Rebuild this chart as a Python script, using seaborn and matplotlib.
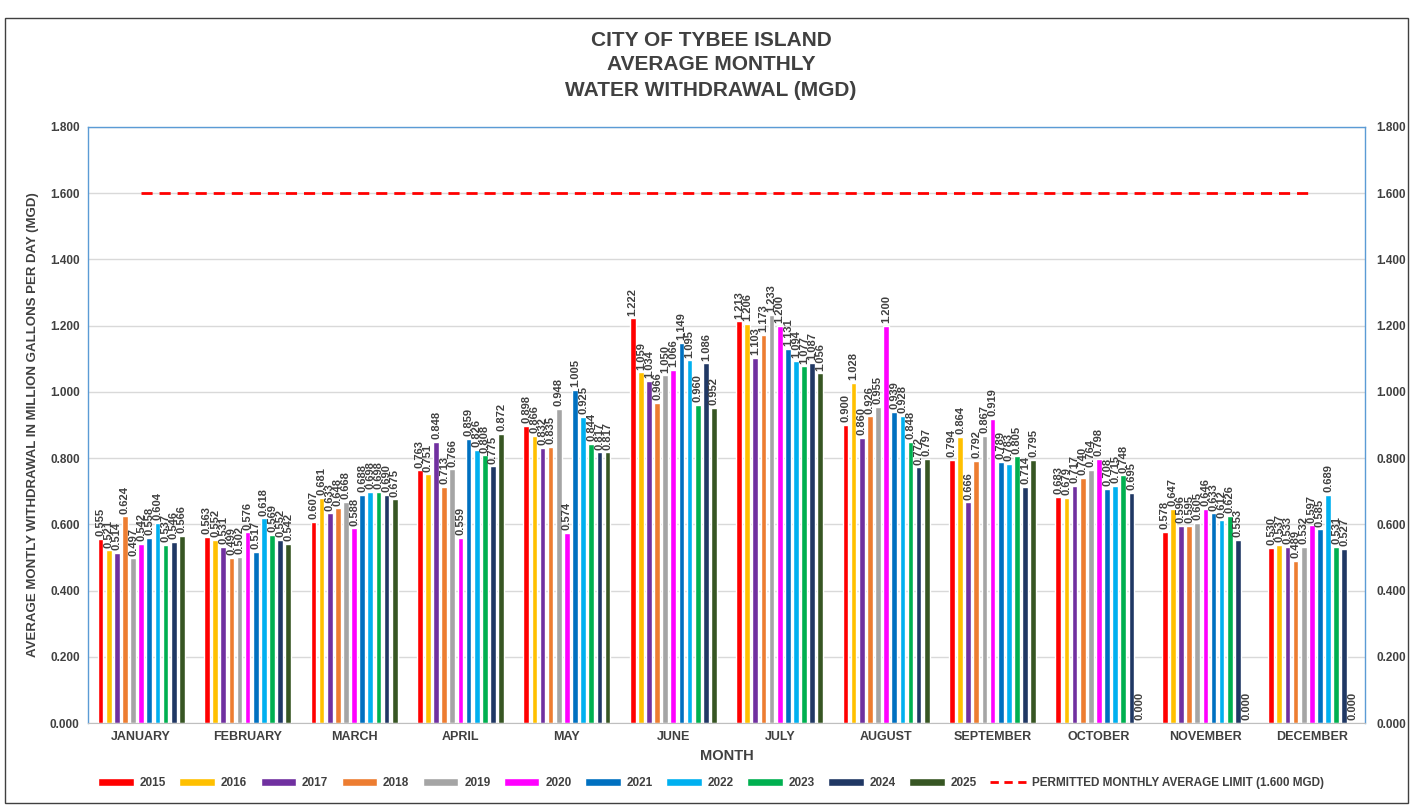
import numpy as np
import pandas as pd
import matplotlib
matplotlib.use("Agg")
import matplotlib.pyplot as plt
import seaborn as sns
from matplotlib.lines import Line2D
from matplotlib.patches import Patch, Rectangle

months = ["JANUARY", "FEBRUARY", "MARCH", "APRIL", "MAY", "JUNE", "JULY",
          "AUGUST", "SEPTEMBER", "OCTOBER", "NOVEMBER", "DECEMBER"]
years = ["2015", "2016", "2017", "2018", "2019", "2020", "2021", "2022", "2023", "2024", "2025"]

y2015 = [0.555, 0.563, 0.607, 0.763, 0.898, 1.222, 1.213, 0.900, 0.794, 0.683, 0.578, 0.530]
y2016 = [0.521, 0.552, 0.681, 0.751, 0.866, 1.059, 1.206, 1.028, 0.864, 0.679, 0.647, 0.537]
y2017 = [0.514, 0.531, 0.633, 0.848, 0.832, 1.034, 1.103, 0.860, 0.666, 0.717, 0.596, 0.533]
y2018 = [0.624, 0.499, 0.648, 0.713, 0.835, 0.966, 1.173, 0.926, 0.792, 0.740, 0.595, 0.489]
y2019 = [0.497, 0.502, 0.668, 0.766, 0.948, 1.050, 1.233, 0.955, 0.867, 0.764, 0.605, 0.532]
y2020 = [0.542, 0.576, 0.588, 0.559, 0.574, 1.066, 1.200, 1.200, 0.919, 0.798, 0.646, 0.597]
y2021 = [0.558, 0.517, 0.688, 0.859, 1.005, 1.149, 1.131, 0.939, 0.789, 0.708, 0.633, 0.585]
y2022 = [0.604, 0.618, 0.698, 0.826, 0.925, 1.095, 1.094, 0.928, 0.783, 0.715, 0.612, 0.689]
y2023 = [0.537, 0.569, 0.698, 0.808, 0.844, 0.960, 1.077, 0.848, 0.805, 0.748, 0.626, 0.531]
y2024 = [0.546, 0.552, 0.690, 0.775, 0.817, 1.086, 1.087, 0.772, 0.714, 0.695, 0.553, 0.527]
y2025 = [0.566, 0.542, 0.675, 0.872, 0.817, 0.952, 1.056, 0.797, 0.795, 0.000, 0.000, 0.000]

limit = 1.6

colors = ["#FF0000", "#FFC000", "#7030A0", "#ED7D31", "#A5A5A5", "#FF00FF",
          "#0070C0", "#00B0F0", "#00B050", "#203864", "#375623"]

series = [y2015, y2016, y2017, y2018, y2019, y2020, y2021, y2022, y2023, y2024, y2025]
rows = []
for yr, vals in zip(years, series):
    for m, v in zip(months, vals):
        rows.append({"Month": m, "Year": yr, "MGD": v})
df = pd.DataFrame(rows)

sns.set_style("white")
plt.rcParams["font.family"] = ["Liberation Sans", "DejaVu Sans"]
txt = "#404040"

fig = plt.figure(figsize=(14.22, 8.05), dpi=100)
ax = fig.add_axes([88 / 1422, 1 - 723 / 805, (1365 - 88) / 1422, (723 - 127) / 805])

sns.barplot(data=df, x="Month", y="MGD", hue="Year", palette=colors, order=months,
            hue_order=years, width=0.84, gap=0.3, saturation=1, ax=ax,
            legend=False, errorbar=None)

# value labels, rotated like the spreadsheet chart
for cont in ax.containers:
    ax.bar_label(cont, fmt="%.3f", rotation=90, padding=2, fontsize=8,
                 fontweight="bold", color=txt)

ax.plot(months, [limit] * len(months), color="#FF0000", lw=2, ls=(0, (4, 2.5)))

ax.set_ylim(0, 1.8)
ax.set_xlim(-0.5, 11.5)
ticks = np.arange(0, 1.801, 0.2)
ax.set_yticks(ticks)
ax.set_yticklabels([f"{t:.3f}" for t in ticks], fontsize=8.5, fontweight="bold", color=txt)
ax.set_xticks(range(len(months)))
ax.set_xticklabels(months, fontsize=9, fontweight="bold", color=txt)
ax.tick_params(axis="both", length=0, pad=6)
ax.yaxis.grid(True, color="#D9D9D9", lw=1)
ax.set_axisbelow(True)
ax.set_xlabel("MONTH", fontsize=10.5, fontweight="bold", color=txt, labelpad=4)
ax.set_ylabel("AVERAGE MONTLY WITHDRAWAL IN MILLION GALLONS PER DAY (MGD)",
              fontsize=9.5, fontweight="bold", color=txt, labelpad=8)
for s in ["left", "right", "top"]:
    ax.spines[s].set_color("#5B9BD5")
    ax.spines[s].set_linewidth(1)
ax.spines["bottom"].set_color("#BFBFBF")

ax2 = ax.twinx()
ax2.set_ylim(0, 1.8)
ax2.set_yticks(ticks)
ax2.set_yticklabels([f"{t:.3f}" for t in ticks], fontsize=8.5, fontweight="bold", color=txt)
ax2.tick_params(axis="y", length=0, pad=8)
for s in ax2.spines.values():
    s.set_visible(False)

for i, line in enumerate(["CITY OF TYBEE ISLAND", "AVERAGE MONTHLY", "WATER WITHDRAWAL (MGD)"]):
    fig.text(0.5, 1 - (40 + 25 * i) / 805, line, ha="center", va="center",
             fontsize=15, fontweight="bold", color=txt)

handles = [Patch(facecolor=c, label=y) for c, y in zip(colors, years)]
handles.append(Line2D([0], [0], color="#FF0000", lw=2, ls=(0, (3, 2)),
                      label="PERMITTED MONTHLY AVERAGE LIMIT (1.600 MGD)"))
fig.legend(handles=handles, loc="center", bbox_to_anchor=(0.5, 1 - 783 / 805), ncol=12,
           frameon=False, prop={"size": 8.5, "weight": "bold"}, labelcolor=txt,
           handlelength=3.0, handleheight=0.6, columnspacing=1.15, handletextpad=0.5)

fig.patches.append(Rectangle((5 / 1422, 2 / 805), 1403 / 1422, 785 / 805,
                             transform=fig.transFigure, fill=False, ec="#404040", lw=1))

fig.savefig("out.png", dpi=100)
